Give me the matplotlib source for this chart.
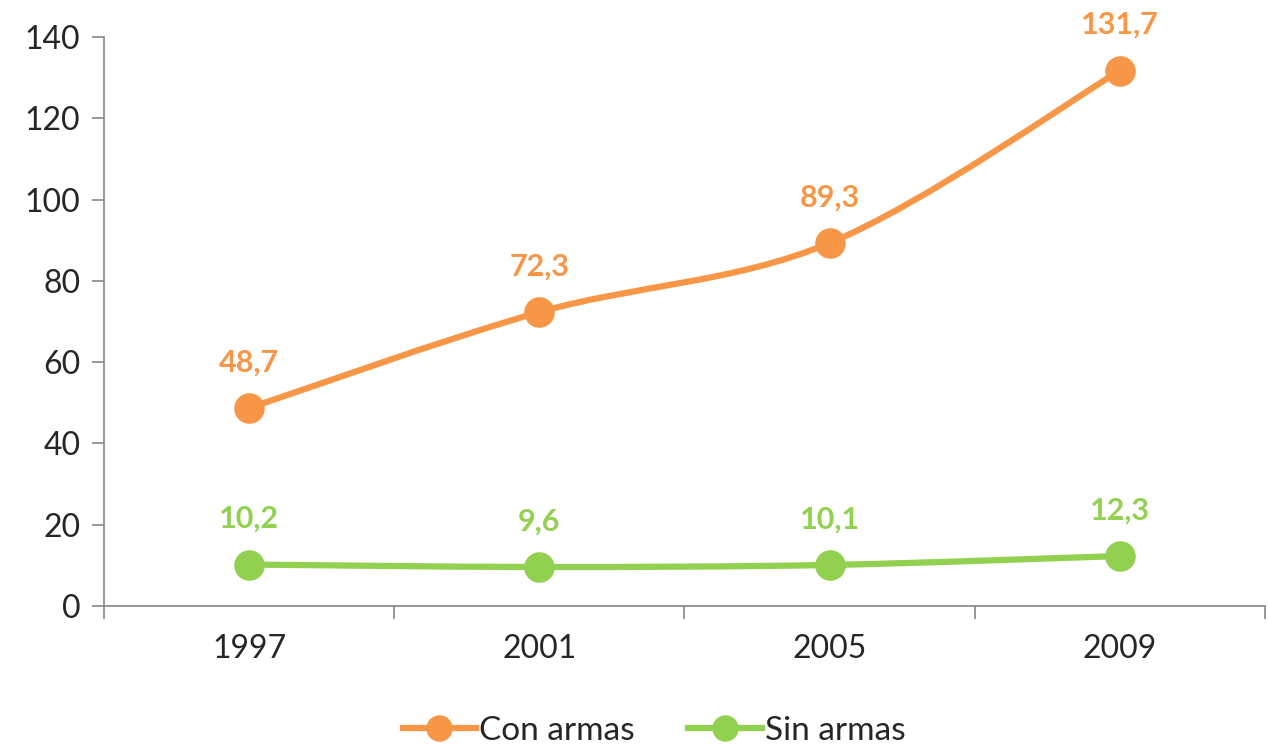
import numpy as np
import matplotlib
matplotlib.use("Agg")
import matplotlib.pyplot as plt
from matplotlib.path import Path
from matplotlib.patches import PathPatch
from matplotlib.lines import Line2D

plt.rcParams['font.family'] = ['Lato', 'DejaVu Sans']

years = ["1997", "2001", "2005", "2009"]
con_armas = [48.7, 72.3, 89.3, 131.7]
sin_armas = [10.2, 9.6, 10.1, 12.3]
con_labels = ["48,7", "72,3", "89,3", "131,7"]
sin_labels = ["10,2", "9,6", "10,1", "12,3"]

ORANGE = "#F79646"
GREEN = "#92D050"
AXIS = "#868686"
TEXT = "#262626"

fig = plt.figure(figsize=(12.68, 7.5), dpi=100)
ax = fig.add_axes([0.082, 0.192, 0.9156, 0.7587])


def smooth_path(xs, ys):
    pts = np.column_stack([xs, ys]).astype(float)
    n = len(pts)
    verts = [pts[0]]
    codes = [Path.MOVETO]
    for i in range(n - 1):
        p0 = pts[i - 1] if i > 0 else pts[i]
        p1 = pts[i]
        p2 = pts[i + 1]
        p3 = pts[i + 2] if i + 2 < n else pts[i + 1]
        c1 = p1 + (p2 - p0) / 6.0
        c2 = p2 - (p3 - p1) / 6.0
        verts += [c1, c2, p2]
        codes += [Path.CURVE4] * 3
    return Path(verts, codes)


x = np.arange(len(years))
for vals, labels, col in [(con_armas, con_labels, ORANGE), (sin_armas, sin_labels, GREEN)]:
    patch = PathPatch(smooth_path(x, vals), facecolor="none", edgecolor=col,
                      lw=4.5, capstyle="round", zorder=2)
    ax.add_patch(patch)
    ax.plot(x, vals, linestyle="none", marker="o", markersize=21, color=col, zorder=3)
    for xi, v, lab in zip(x, vals, labels):
        ax.annotate(lab, (xi, v), xytext=(0, 33), textcoords="offset points",
                    ha="center", va="center", fontsize=22, fontweight="bold", color=col,
                    annotation_clip=False)

ax.set_xlim(-0.5, len(years) - 0.5)
ax.set_ylim(0, 140)
ax.set_yticks(np.arange(0, 141, 20))
ax.tick_params(axis="y", labelsize=23, colors=AXIS, labelcolor=TEXT, length=9, width=1.2, pad=8)

ax.set_xticks(np.arange(-0.5, len(years), 1.0))
ax.set_xticklabels([])
ax.tick_params(axis="x", which="major", colors=AXIS, length=9, width=1.2)
ax.set_xticks(x, minor=True)
ax.set_xticklabels(years, minor=True)
ax.tick_params(axis="x", which="minor", length=0, labelsize=23, labelcolor=TEXT, pad=20)

for s in ["top", "right"]:
    ax.spines[s].set_visible(False)
for s in ["left", "bottom"]:
    ax.spines[s].set_color(AXIS)
    ax.spines[s].set_linewidth(1.2)

handles = [Line2D([0], [0], color=ORANGE, lw=4.5, marker="o", markersize=18),
           Line2D([0], [0], color=GREEN, lw=4.5, marker="o", markersize=18)]
leg = fig.legend(handles, ["Con armas", "Sin armas"], loc="center", bbox_to_anchor=(0.516, 0.026),
                 ncol=2, frameon=False, fontsize=24, handlelength=2.2, handletextpad=0.1,
                 columnspacing=1.6)
for t in leg.get_texts():
    t.set_color(TEXT)

fig.savefig("out.png", dpi=100)
